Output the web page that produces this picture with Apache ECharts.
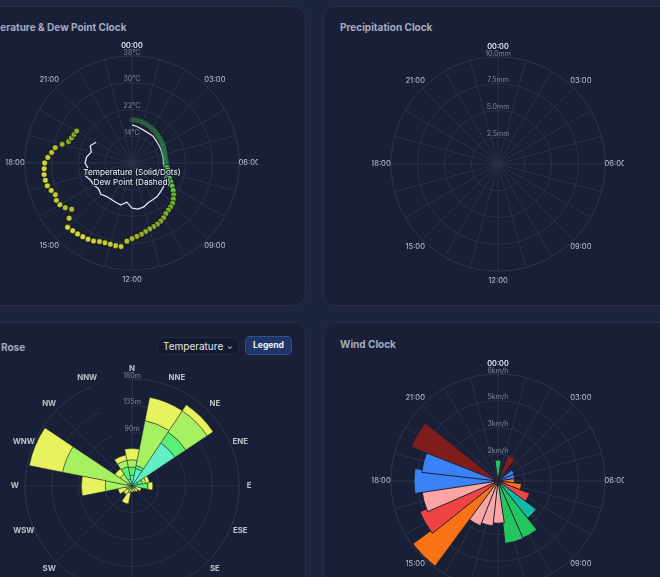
<!doctype html>
<html lang="en">
<head>
<meta charset="utf-8">
<title>Weather clocks</title>
<script src="https://cdn.jsdelivr.net/npm/echarts@6.0.0/dist/echarts.min.js"></script>
<style>
  html, body { margin: 0; padding: 0; }
  body {
    width: 660px; height: 577px; overflow: hidden; position: relative;
    background: #1d2440;
    font-family: Inter, "Noto Sans", sans-serif;
  }
  .card {
    position: absolute; width: 350px; height: 300px; box-sizing: border-box;
    background: #181f36; border: 1px solid #252d47; border-radius: 13px;
  }
  .card h3 {
    position: absolute; left: 16px; margin: 0; font-size: 10px; line-height: 14px;
    font-weight: 700; color: #a3acc0; white-space: nowrap;
  }
  .chart { position: absolute; width: 252px; height: 252px; }
  #sel {
    position: absolute; left: 157px; top: 337px; width: 83px; height: 18px; box-sizing: border-box;
    background: #141a2d; border: 1px solid #232b43; border-radius: 8px;
    color: #e5e7eb; font-size: 10px; line-height: 16px; padding-left: 5px;
  }
  #sel span { position: absolute; right: 6px; top: 0; font-size: 8px; color: #cbd5e1; }
  #btn {
    position: absolute; left: 245px; top: 336px; width: 47px; height: 19px; box-sizing: border-box;
    background: #1e3766; border: 1px solid #35518a; border-radius: 5px;
    color: #f1f5f9; font-size: 8.5px; font-weight: 700; line-height: 17px; text-align: center;
  }
</style>
</head>
<body>

<div class="card" style="left:-44px;top:6px;"><h3 style="top:13px;">Temperature &amp; Dew Point Clock</h3></div>
<div class="card" style="left:323px;top:6px;"><h3 style="top:13px;">Precipitation Clock</h3></div>
<div class="card" style="left:-44px;top:322px;"><h3 style="top:17px;">Wind Rose</h3></div>
<div class="card" style="left:323px;top:322px;"><h3 style="top:14px;">Wind Clock</h3></div>

<div id="sel">Temperature<span>&#8964;</span></div>
<div id="btn">Legend</div>

<div id="chartTemp" class="chart" style="left:6px;top:37px;"></div>
<div id="chartRain" class="chart" style="left:372px;top:38px;"></div>
<div id="chartRose" class="chart" style="left:6px;top:360px;"></div>
<div id="chartWind" class="chart" style="left:372px;top:355px;"></div>

<script>
  // temperature, every 15 min from 00:00 to 20:00
  var tempHours = [
    0, 0.25, 0.5, 0.75, 1, 1.25, 1.5, 1.75, 2, 2.25, 2.5, 2.75, 3, 3.25, 3.5, 3.75,
    4, 4.25, 4.5, 4.75, 5, 5.25, 5.5, 5.75, 6, 6.25, 6.5, 6.75, 7, 7.25, 7.5, 7.75,
    8, 8.25, 8.5, 8.75, 9, 9.25, 9.5, 9.75, 10, 10.25, 10.5, 10.75, 11, 11.25, 11.5, 11.75,
    12, 12.25, 12.5, 12.75, 13, 13.25, 13.5, 13.75, 14, 14.25, 14.5, 14.75, 15, 15.25, 15.5, 15.75,
    16, 16.25, 16.5, 16.75, 17, 17.25, 17.5, 17.75, 18, 18.25, 18.5, 18.75, 19, 19.25, 19.5, 19.75,
    20
  ];
  var tempValues = [
    18.9, 18.9, 18.8, 18.7, 18.5, 18.4, 18.2, 18.1, 18.0, 17.8, 17.6, 17.4, 17.2, 17.1, 16.9, 16.8,
    16.7, 16.6, 16.4, 16.3, 16.2, 16.1, 16.1, 16.2, 16.3, 16.4, 16.6, 16.9, 17.2, 17.4, 18.1, 18.9,
    19.8, 20.8, 21.7, 22.4, 23.1, 23.5, 23.8, 24.2, 24.9, 25.4, 25.8, 26.1, 26.4, 26.9, 27.5, 28.0,
    28.6, 29.4, 31.2, 31.2, 31.1, 31.2, 31.4, 32.0, 32.3, 32.5, 32.7, 32.9, 33.2, 31.0, 28.7, 30.0,
    30.9, 31.2, 30.8, 31.5, 32.2, 32.4, 32.5, 32.3, 32.1, 31.2, 30.2, 29.4, 27.6, 26.0, 25.6, 25.3,
    25.1
  ];

  // dew point, every 30 min
  var dewHours = [
    0, 0.5, 1, 1.5, 2, 2.5, 3, 3.5, 4, 4.5, 5, 5.5, 6, 6.5, 7, 7.5, 8, 8.5, 9, 9.5,
    10, 10.5, 11, 11.5, 12, 12.5, 13, 13.5, 14, 14.5, 15, 15.5, 16, 16.5, 17, 17.5, 18, 18.5, 19, 19.5, 20
  ];
  var dewValues = [
    17.4, 17.0, 16.6, 16.3, 16.2, 16.2, 15.9, 15.7, 15.6, 15.5, 15.4, 15.4, 15.4, 15.8, 16.3, 16.8, 17.3, 17.8, 18.1, 18.5,
    18.6, 18.8, 19.6, 19.9, 19.5, 17.8, 19.0, 18.7, 18.5, 18.6, 19.2, 18.6, 19.2, 19.4, 20.5, 19.2, 20.0, 19.7, 18.6, 19.5, 18.4
  ];

  // wind rose: minutes per direction, split by temperature band
  var roseDirs = ['N', 'NNE', 'NE', 'ENE', 'E', 'ESE', 'SE', 'SSE', 'S', 'SSW', 'SW', 'WSW', 'W', 'WNW', 'NW', 'NNW'];
  var roseBands = ['< 20°C', '20-25°C', '25-30°C', '> 30°C'];
  var roseCool = [18, 30, 87, 10, 0, 0, 0, 0, 0, 0, 0, 0, 0, 0, 0, 12];
  var roseMild = [14, 5, 22, 8, 27, 0, 0, 0, 0, 0, 0, 0, 5, 8, 6, 21];
  var roseWarm = [12, 77, 43, 6, 0, 6, 5, 4, 4, 12, 8, 10, 40, 111, 18, 11];
  var roseHot = [19, 40, 12, 6, 8, 10, 7, 6, 6, 19, 9, 14, 40, 57, 11, 9];

  // wind clock: hourly mean speed (km/h) and prevailing direction
  var windHours = [0, 1, 2, 3, 4, 5, 6, 7, 8, 9, 10, 11, 12, 13, 14, 15, 16, 17, 18, 19, 20];
  var windSpeed = [1.18, 0, 1.55, 0, 0.99, 0.95, 0.93, 1.33, 1.91, 2.67, 3.49, 3.52, 2.37, 2.53, 2.69, 5.93, 4.7, 4.3, 4.71, 4.3, 5.22];
  var windDir = ['N', 'N', 'NW', 'W', 'W', 'W', 'SW', 'SW', 'WSW', 'E', 'N', 'N', 'S', 'S', 'S', 'SW', 'WSW', 'S', 'W', 'W', 'NW'];

  // clock face labels (24 is drawn over 00)
  var clockLabelHours = [0, 3, 6, 9, 12, 15, 18, 21, 24];

  var gridColor = '#2a3249';
  var font = 'Inter';
  // labels sit centred a little outside the outer ring
  var labelRatio = 117 / 107;

  function hourLabel(v) {
    var h = v % 24;
    return (h < 10 ? '0' + h : h) + ':00';
  }

  function clockAngleAxis() {
    return {
      type: 'value', min: 0, max: 24, interval: 1, startAngle: 90, clockwise: true,
      axisLine: { lineStyle: { color: gridColor } },
      axisTick: { show: false },
      axisLabel: { show: false },
      splitLine: { lineStyle: { color: gridColor } }
    };
  }

  function radialAxis(min, max, interval, fmt) {
    return {
      min: min, max: max, interval: interval,
      axisLine: { show: false },
      axisTick: { show: false },
      axisLabel: {
        color: '#7f889e', fontSize: 7, margin: 0, showMinLabel: false,
        align: 'center', verticalAlign: 'bottom', formatter: fmt
      },
      splitLine: { lineStyle: { color: gridColor } }
    };
  }

  function ringLabels(min, max, angles, fmt, labelStyle) {
    var r = min + (max - min) * labelRatio;
    return {
      type: 'scatter', coordinateSystem: 'polar', clip: false, silent: true, z: 1,
      symbol: 'circle', symbolSize: 1, itemStyle: { color: 'transparent' },
      label: Object.assign({
        show: true, position: 'inside', color: '#e2e8f0', fontSize: 7.6, fontFamily: font,
        formatter: function (p) { return fmt(p.value[1]); }
      }, labelStyle || {}),
      data: angles.map(function (a) { return [r, a]; })
    };
  }

  // ---- temperature & dew point clock
  var chartTemp = echarts.init(document.getElementById('chartTemp'), null, { renderer: 'canvas' });
  chartTemp.setOption({
    animation: false,
    textStyle: { fontFamily: font },
    polar: { center: ['50%', '50%'], radius: '85%' },
    angleAxis: clockAngleAxis(),
    radiusAxis: radialAxis(6, 38, 8, function (v) { return v + '°C'; }),
    visualMap: [
      {
        type: 'continuous', show: false, seriesIndex: 1, dimension: 0, min: 16, max: 33,
        inRange: { color: ['#48ec78', '#6cbc3a', '#a2b434', '#dfe846'] }
      },
      {
        type: 'piecewise', show: false, seriesIndex: 1, dimension: 1,
        pieces: [{ lt: 6.4, opacity: 0.22 }, { gte: 6.4, opacity: 0.95 }]
      }
    ],
    graphic: [{
      type: 'text', x: 126, y: 131, z: 100,
      style: {
        text: 'Temperature (Solid/Dots)\nDew Point (Dashed)',
        fill: '#f1f5f9', font: '8.2px Inter', align: 'center', verticalAlign: 'top',
        lineHeight: 10, stroke: '#151b2e', lineWidth: 2
      }
    }],
    series: [
      {
        name: 'Dew Point', type: 'line', coordinateSystem: 'polar', showSymbol: false, z: 2,
        lineStyle: { color: '#e6e8ee', width: 1.3 },
        data: dewHours.map(function (h, i) { return [dewValues[i], h]; })
      },
      {
        name: 'Temperature', type: 'scatter', coordinateSystem: 'polar', z: 3,
        symbol: 'circle', symbolSize: 6,
        itemStyle: { borderColor: 'rgba(0,0,0,0.55)', borderWidth: 1.2 },
        data: tempHours.map(function (h, i) { return [tempValues[i], h]; })
      },
      ringLabels(6, 38, clockLabelHours, hourLabel)
    ]
  });

  // ---- precipitation clock (no rain today)
  var chartRain = echarts.init(document.getElementById('chartRain'), null, { renderer: 'canvas' });
  chartRain.setOption({
    animation: false,
    textStyle: { fontFamily: font },
    polar: { center: ['50%', '50%'], radius: '85%' },
    angleAxis: clockAngleAxis(),
    radiusAxis: radialAxis(0, 10, 2.5, function (v) { return v.toFixed(1) + 'mm'; }),
    series: [
      { name: 'Precipitation', type: 'bar', coordinateSystem: 'polar', data: [] },
      ringLabels(0, 10, clockLabelHours, hourLabel)
    ]
  });

  // ---- wind rose
  var bandColors = ['#5ff0c6', '#5cef78', '#a7f062', '#e6f25e'];
  var bandData = [roseCool, roseMild, roseWarm, roseHot];
  var roseSeries = roseBands.map(function (name, k) {
    return {
      name: name, type: 'bar', coordinateSystem: 'polar', stack: 'rose',
      barCategoryGap: '0%',
      itemStyle: { color: bandColors[k], borderColor: 'rgba(30,40,30,0.55)', borderWidth: 0.8 },
      data: bandData[k]
    };
  });
  roseSeries.push(ringLabels(0, 180, roseDirs, function (d) { return d; },
    { fontWeight: 'bold', fontSize: 7.8, color: '#e5e7eb' }));

  var chartRose = echarts.init(document.getElementById('chartRose'), null, { renderer: 'canvas' });
  chartRose.setOption({
    animation: false,
    textStyle: { fontFamily: font },
    polar: { center: ['50%', '50%'], radius: '85%' },
    angleAxis: {
      type: 'category', data: roseDirs, boundaryGap: false, startAngle: 90, clockwise: true,
      axisLine: { lineStyle: { color: gridColor } },
      axisTick: { show: false, interval: 1 },
      axisLabel: { show: false },
      splitLine: { show: true, lineStyle: { color: gridColor } }
    },
    radiusAxis: radialAxis(0, 180, 45, function (v) { return v + 'm'; }),
    series: roseSeries
  });

  // ---- wind clock
  var dirColors = {
    N: '#22c55e', NW: '#7f1d1d', W: '#3b82f6', SW: '#f97316',
    WSW: '#ef4444', E: '#14b8a6', S: '#fca5a5'
  };
  var chartWind = echarts.init(document.getElementById('chartWind'), null, { renderer: 'canvas' });
  chartWind.setOption({
    animation: false,
    textStyle: { fontFamily: font },
    polar: { center: ['50%', '50%'], radius: '85%' },
    angleAxis: clockAngleAxis(),
    radiusAxis: radialAxis(0, 6, 1.5, function (v) { return Math.round(v) + 'km/h'; }),
    series: [
      {
        name: 'Wind', type: 'bar', coordinateSystem: 'polar', barCategoryGap: '0%',
        itemStyle: { borderColor: '#1c2233', borderWidth: 1 },
        data: windHours.map(function (h, i) {
          return { value: [windSpeed[i], h], itemStyle: { color: dirColors[windDir[i]] } };
        })
      },
      ringLabels(0, 6, clockLabelHours, hourLabel)
    ]
  });
</script>
</body>
</html>
